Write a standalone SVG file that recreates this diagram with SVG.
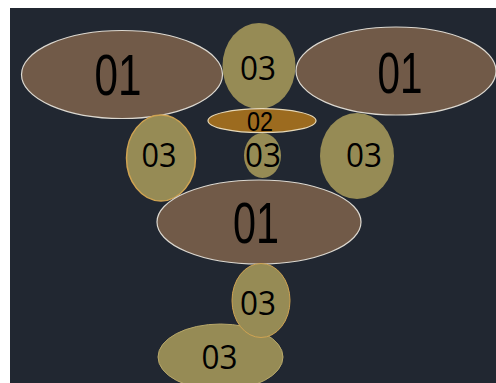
<svg xmlns="http://www.w3.org/2000/svg" width="496" height="383" viewBox="0 0 496 383">
<style>
.a{fill:#715A48;stroke:#dcd8d0;stroke-width:1.2}
.c{fill:#968B55}
.co{fill:#968B55;stroke:#cfa352;stroke-width:1.5}
.o{fill:#9C6B1F;stroke:#e6d8b8;stroke-width:1.2}
.t1{font-family:"Liberation Sans",Arial,sans-serif;font-size:57px;fill:#000;text-anchor:middle}
.t3{font-family:"Open Sans","DejaVu Sans",sans-serif;font-size:32px;fill:#000;text-anchor:middle}
.t2{font-family:"Liberation Sans",Arial,sans-serif;font-size:27px;fill:#000;text-anchor:middle}
</style>
<rect x="0" y="0" width="496" height="383" fill="#ffffff"/>
<rect x="10" y="8" width="486" height="375" fill="#212731"/>
<g id="connectors"></g>
<g id="n01-left"><ellipse class="a" cx="122" cy="74.5" rx="100.5" ry="44"/><text class="t1" x="118" y="95" textLength="47" lengthAdjust="spacingAndGlyphs">01</text></g>
<g id="n01-right"><ellipse class="a" cx="396" cy="71" rx="100" ry="44"/><text class="t1" x="400" y="93" textLength="45" lengthAdjust="spacingAndGlyphs">01</text></g>
<g id="n03-top"><ellipse class="c" cx="259" cy="66" rx="36.5" ry="43"/><text class="t3" x="258" y="80" textLength="36" lengthAdjust="spacingAndGlyphs">03</text></g>
<g id="n02"><ellipse class="o" cx="262" cy="120.7" rx="54" ry="12"/><text class="t2" x="260" y="131" textLength="26" lengthAdjust="spacingAndGlyphs">02</text></g>
<g id="n03-small"><ellipse class="c" cx="262.5" cy="155.5" rx="18.5" ry="22.5"/><text class="t3" x="263" y="166.7" textLength="36" lengthAdjust="spacingAndGlyphs">03</text></g>
<g id="n03-left"><ellipse class="co" cx="161" cy="158" rx="34.5" ry="43"/><text class="t3" x="159" y="166.7" textLength="35" lengthAdjust="spacingAndGlyphs">03</text></g>
<g id="n03-right"><ellipse class="c" cx="357" cy="156" rx="37" ry="43"/><text class="t3" x="364" y="166.7" textLength="36" lengthAdjust="spacingAndGlyphs">03</text></g>
<g id="n01-center"><ellipse class="a" cx="259" cy="222" rx="102" ry="42"/><text class="t1" x="256" y="242.7" textLength="46" lengthAdjust="spacingAndGlyphs">01</text></g>
<g id="n03-bottom"><ellipse class="c" cx="220.5" cy="357" rx="62.5" ry="33" stroke="#b8a86a" stroke-width="1"/><text class="t3" x="219.5" y="369" textLength="36" lengthAdjust="spacingAndGlyphs">03</text></g>
<g id="n03-lower"><ellipse class="c" cx="261" cy="300.5" rx="29" ry="37" stroke="#cfa352" stroke-width="1"/><text class="t3" x="258" y="315" textLength="36" lengthAdjust="spacingAndGlyphs">03</text></g>
</svg>
